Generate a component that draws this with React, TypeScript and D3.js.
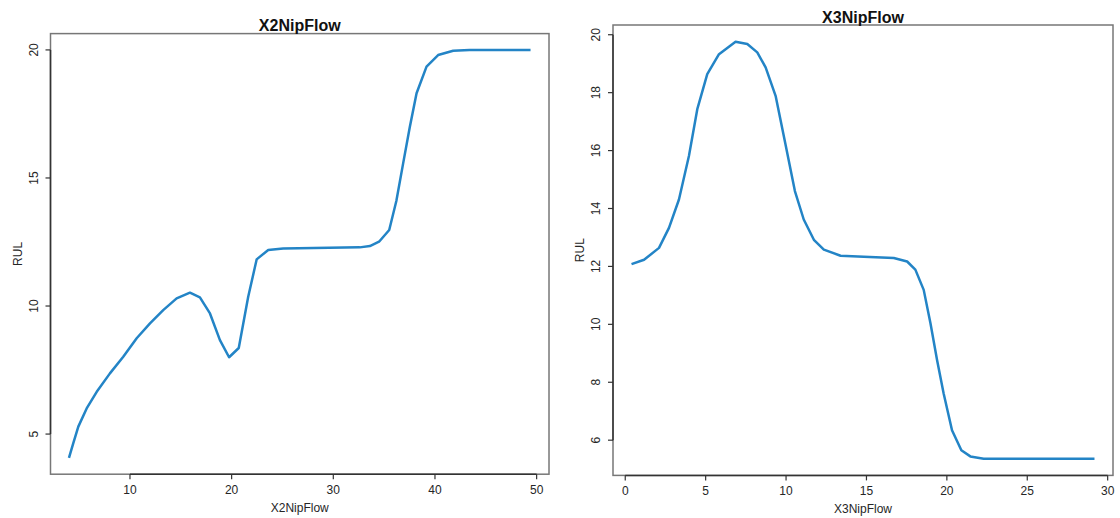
import React from "react";
import * as d3 from "d3";

const x2Flow = [4.0, 4.42, 4.92, 5.74, 6.73, 8.03, 9.34, 10.66, 11.97, 13.27, 14.59, 15.9, 16.88, 17.87, 18.85, 19.75, 20.7, 21.63, 22.46, 23.6, 25.07, 32.6, 33.6, 34.5, 35.5, 36.2, 36.87, 37.53, 38.19, 39.17, 40.31, 41.79, 43.4, 49.4];
const x2Rul = [4.07, 4.64, 5.29, 6.0, 6.65, 7.37, 8.02, 8.74, 9.32, 9.84, 10.3, 10.52, 10.34, 9.71, 8.67, 8.0, 8.36, 10.36, 11.82, 12.19, 12.25, 12.29, 12.34, 12.51, 12.97, 14.1, 15.57, 17.0, 18.31, 19.35, 19.8, 19.97, 20.0, 20.0];

const x3Flow = [0.39, 1.17, 2.1, 2.72, 3.34, 3.96, 4.48, 5.1, 5.83, 6.86, 7.59, 8.21, 8.73, 9.35, 9.97, 10.55, 11.1, 11.73, 12.35, 13.39, 14.83, 16.7, 17.53, 18.04, 18.56, 18.98, 19.39, 19.8, 20.32, 20.9, 21.46, 22.29, 29.18];
const x3Rul = [12.08, 12.23, 12.64, 13.33, 14.31, 15.81, 17.43, 18.64, 19.33, 19.76, 19.68, 19.39, 18.87, 17.89, 16.2, 14.6, 13.62, 12.92, 12.58, 12.37, 12.33, 12.29, 12.17, 11.89, 11.19, 10.04, 8.77, 7.61, 6.34, 5.65, 5.44, 5.36, 5.36];

const x2XTicks = [10, 20, 30, 40, 50];
const x2YTicks = [5, 10, 15, 20];
const x3XTicks = [0, 5, 10, 15, 20, 25, 30];
const x3YTicks = [6, 8, 10, 12, 14, 16, 18, 20];

const LINE = "#2384c6";
const TEXT = "#262626";
const FONT = "'Liberation Sans', Arial, Helvetica, sans-serif";

function pad(ext: [number, number]): [number, number] {
  const r = ext[1] - ext[0];
  return [ext[0] - 0.04 * r, ext[1] + 0.04 * r];
}

type PanelProps = {
  title: string;
  xs: number[];
  ys: number[];
  xTicks: number[];
  yTicks: number[];
  left: number;
  right: number;
  top: number;
  bottom: number;
  titleY: number;
};

function Panel({ title, xs, ys, xTicks, yTicks, left, right, top, bottom, titleY }: PanelProps) {
  const x = d3.scaleLinear().domain(pad(d3.extent(xs) as [number, number])).range([left, right]);
  const y = d3.scaleLinear().domain(pad(d3.extent(ys) as [number, number])).range([bottom, top]);
  const pts = xs.map((v, i) => [v, ys[i]] as [number, number]);
  const line = d3.line<[number, number]>().x((d) => x(d[0])).y((d) => y(d[1]));
  const cx = (left + right) / 2;
  const cy = (top + bottom) / 2;
  const tl = 5;
  return (
    <g fontFamily={FONT} fill={TEXT}>
      <rect x={left} y={top} width={right - left} height={bottom - top} fill="none" stroke="#777" strokeWidth={1.5} />
      <line x1={left} x2={left} y1={y(yTicks[0])} y2={y(yTicks[yTicks.length - 1])} stroke="#333" strokeWidth={1.5} />
      <line x1={x(xTicks[0])} x2={x(xTicks[xTicks.length - 1])} y1={bottom} y2={bottom} stroke="#333" strokeWidth={1.5} />
      {yTicks.map((t) => (
        <g key={"y" + t}>
          <line x1={left - tl} x2={left} y1={y(t)} y2={y(t)} stroke="#333" strokeWidth={1.2} />
          <text transform={`translate(${left - 13},${y(t)}) rotate(-90)`} textAnchor="middle" fontSize={12}>
            {t}
          </text>
        </g>
      ))}
      {xTicks.map((t) => (
        <g key={"x" + t}>
          <line x1={x(t)} x2={x(t)} y1={bottom} y2={bottom + tl} stroke="#333" strokeWidth={1.2} />
          <text x={x(t)} y={bottom + 20} textAnchor="middle" fontSize={12}>
            {t}
          </text>
        </g>
      ))}
      <path d={line(pts) || ""} fill="none" stroke={LINE} strokeWidth={2.5} strokeLinejoin="round" />
      <text x={cx} y={titleY} textAnchor="middle" fontSize={16} fontWeight="bold" fill="#111">
        {title}
      </text>
      <text x={cx} y={bottom + 38} textAnchor="middle" fontSize={12}>
        {title}
      </text>
      <text transform={`translate(${left - 29},${cy}) rotate(-90)`} textAnchor="middle" fontSize={12}>
        RUL
      </text>
    </g>
  );
}

export default function App() {
  return (
    <svg width={1120} height={518} style={{ position: "absolute", left: 0, top: 0, background: "#fff" }}>
      <rect width={1120} height={518} fill="#fff" />
      <Panel title="X2NipFlow" xs={x2Flow} ys={x2Rul} xTicks={x2XTicks} yTicks={x2YTicks}
        left={50.5} right={549} top={33.6} bottom={474.2} titleY={31} />
      <Panel title="X3NipFlow" xs={x3Flow} ys={x3Rul} xTicks={x3XTicks} yTicks={x3YTicks}
        left={613} right={1113} top={25} bottom={475.4} titleY={23} />
    </svg>
  );
}
